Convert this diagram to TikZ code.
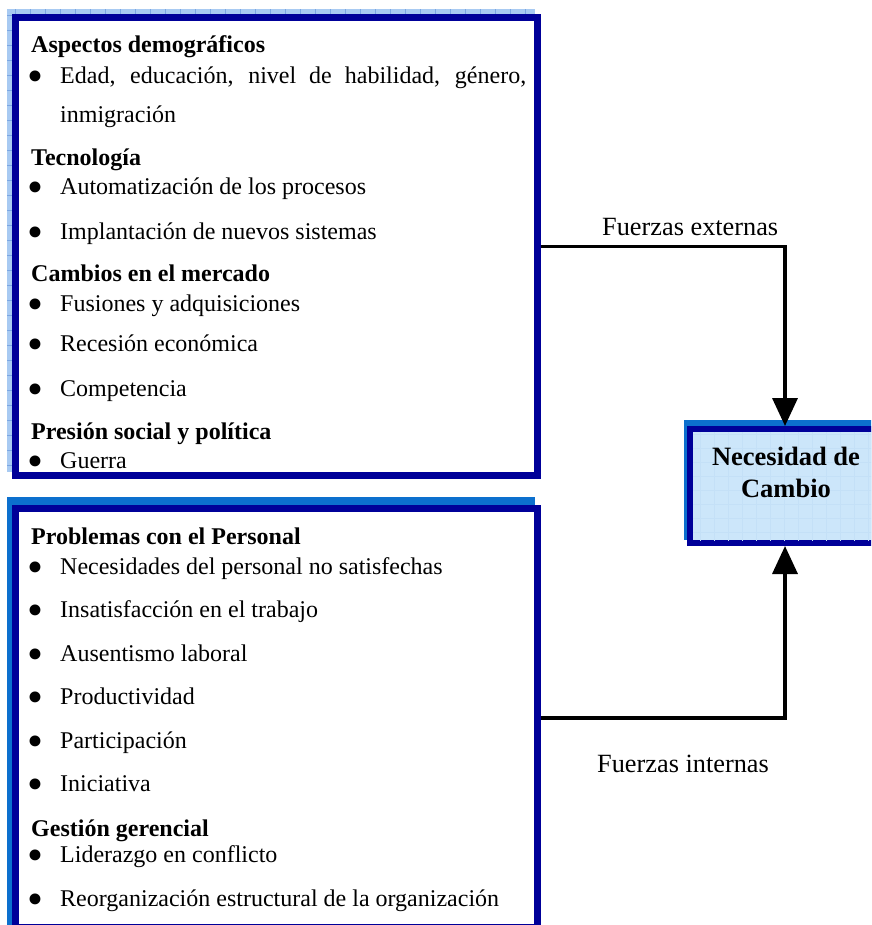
\documentclass[tikz,border=0pt]{standalone}
\usepackage{fontspec}
\usepackage{graphicx}
\setmainfont{Liberation Serif}
\usetikzlibrary{arrows.meta}
\definecolor{dkblue}{RGB}{0,0,153}
\definecolor{shblue}{RGB}{168,202,242}
\definecolor{shgrid}{RGB}{122,166,226}
\definecolor{medblue}{RGB}{12,112,206}
\definecolor{needfill}{RGB}{204,230,250}
\definecolor{needgrid}{RGB}{196,224,247}
\newcommand\mybul{\smash{\raisebox{-8pt}{\scalebox{1.9}{•}}}}
\newcommand\myitm[1]{\makebox[33pt][l]{\mybul}#1}
\begin{document}
\begin{tikzpicture}[x=1pt,y=-1pt,
  box/.style={draw=dkblue, line width=7pt, fill=white, rectangle, inner sep=0pt},
  body/.style={anchor=base west, inner sep=0pt, font=\fontsize{24}{28}\selectfont},
  head/.style={anchor=base west, inner sep=0pt, font=\fontsize{24}{28}\selectfont\bfseries},
  lbl/.style={anchor=base west, inner sep=0pt, font=\fontsize{26.3}{30}\selectfont},
  needtxt/.style={anchor=base, inner sep=0pt, font=\fontsize{26.5}{30}\selectfont\bfseries},
  conn/.style={line width=3.5pt, -{Triangle[width=25pt,length=28pt]}},
]
\useasboundingbox (0,0) rectangle (871,925);
\clip (0,0) rectangle (871,925);

% shadows
\fill[shblue] (7,9) rectangle (535,472);
\draw[shgrid, line width=0.6pt] (7,9) grid[step=15pt] (535,472);
\fill[medblue] (7,497) rectangle (535,925);
\fill[medblue] (684,420) rectangle (880,540);

% boxes
\node[box, minimum width=522pt, minimum height=458pt] (box1) at (276.5,246.5) {};
\node[box, minimum width=522pt, minimum height=419pt] (box2) at (276.5,718) {};
\node[box, fill=needfill, line width=6pt, minimum width=190pt, minimum height=114pt] (need) at (785,486) {};
\begin{scope}
\clip (693,432) rectangle (877,540);
\draw[needgrid, line width=0.6pt] (684,420) grid[step=14pt] (884,550);
\end{scope}
\node[needtxt] (need1) at (786,465) {Necesidad de};
\node[needtxt] (need2) at (786,497) {Cambio};

% box 1 text
\node[head] (h1) at (31,53) {Aspectos demográficos};
\node[body] (i1) at (27,84) {\myitm{\makebox[466pt][s]{Edad, educación, nivel de habilidad, género,}}};
\node[body] (i1b) at (60,123) {inmigración};
\node[head] (h2) at (31,166) {Tecnología};
\node[body] (i2) at (27,195) {\myitm{Automatización de los procesos}};
\node[body] (i3) at (27,240) {\myitm{Implantación de nuevos sistemas}};
\node[head] (h3) at (31,281) {Cambios en el mercado};
\node[body] (i4) at (27,311) {\myitm{Fusiones y adquisiciones}};
\node[body] (i5) at (27,351) {\myitm{Recesión económica}};
\node[body] (i6) at (27,396) {\myitm{Competencia}};
\node[head] (h4) at (31,439) {Presión social y política};
\node[body] (i7) at (27,468) {\myitm{Guerra}};

% box 2 text
\node[head] (h5) at (31,544) {Problemas con el Personal};
\node[body] (j1) at (27,574) {\myitm{Necesidades del personal no satisfechas}};
\node[body] (j2) at (27,617) {\myitm{Insatisfacción en el trabajo}};
\node[body] (j3) at (27,661) {\myitm{Ausentismo laboral}};
\node[body] (j4) at (27,704) {\myitm{Productividad}};
\node[body] (j5) at (27,748) {\myitm{Participación}};
\node[body] (j6) at (27,791) {\myitm{Iniciativa}};
\node[head] (h6) at (31,836) {Gestión gerencial};
\node[body] (j7) at (27,862) {\myitm{Liderazgo en conflicto}};
\node[body] (j8) at (27,906) {\myitm{Reorganización estructural de la organización}};

% connectors
\draw[conn] (box1.east) -| (need.north);
\draw[conn] (box2.east) -| (need.south);
\node[lbl] (fext) at (602,236) {Fuerzas externas};
\node[lbl] (fint) at (597,772) {Fuerzas internas};
\end{tikzpicture}
\end{document}
